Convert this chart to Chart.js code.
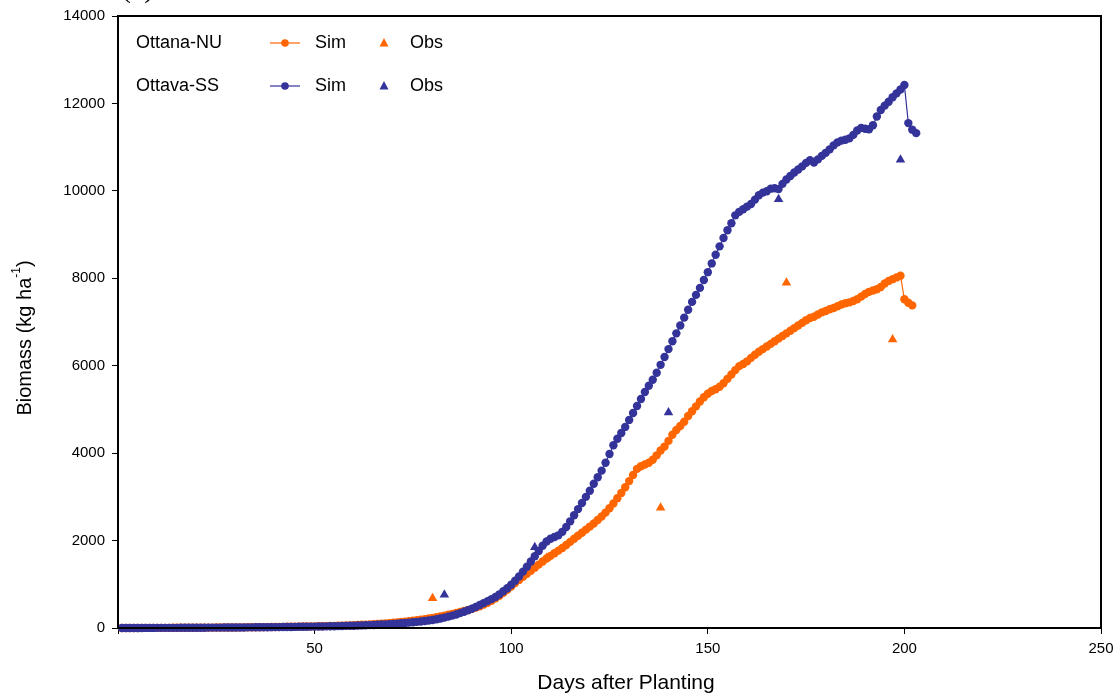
<!DOCTYPE html>
<html>
<head>
<meta charset="utf-8">
<script src="https://cdn.jsdelivr.net/npm/chart.js@4/dist/chart.umd.min.js"></script>
<style>
  html, body { margin: 0; padding: 0; background: #fff; }
  #wrap { width: 1120px; height: 693px; position: relative; }
</style>
</head>
<body>
<div id="wrap"><canvas id="chart"></canvas></div>
<script>
// simulated biomass, one value per day starting at day 1 (kg/ha)
const simNU = [
  0,0,1,1,1,2,2,2,3,3,
  3,4,4,5,5,5,6,6,7,7,
  8,8,9,9,10,11,11,12,13,13,
  14,15,16,17,18,19,20,21,22,23,
  24,26,27,28,30,31,33,35,36,38,
  40,42,44,47,49,52,55,58,61,65,
  69,73,77,82,87,93,99,105,112,120,
  128,137,146,156,167,178,190,203,217,232,
  248,265,283,302,322,343,365,388,412,438,
  466,498,535,578,625,678,738,805,875,950,
  1030,1100,1170,1240,1310,1380,1450,1520,1590,1650,
  1710,1770,1830,1900,1970,2040,2110,2180,2250,2320,
  2390,2470,2550,2640,2740,2850,2970,3090,3220,3360,
  3500,3640,3700,3740,3780,3850,3950,4060,4150,4280,
  4420,4530,4620,4720,4850,4960,5070,5180,5280,5360,
  5420,5460,5520,5600,5700,5800,5900,5990,6040,6100,
  6180,6250,6320,6380,6440,6500,6560,6620,6680,6740,
  6800,6860,6920,6980,7040,7090,7120,7170,7220,7250,
  7290,7320,7360,7400,7430,7450,7480,7520,7580,7640,
  7690,7720,7750,7800,7880,7940,7980,8020,8060,7520,
  7440,7380
];
const simSS = [
  0,0,0,1,1,1,2,2,2,3,
  3,3,4,4,4,5,5,5,6,6,
  7,7,8,8,9,9,10,11,11,12,
  13,13,14,15,16,16,17,18,19,20,
  21,22,23,24,25,27,28,29,31,32,
  34,35,37,39,41,43,45,48,50,53,
  56,59,63,66,70,74,79,84,89,95,
  101,108,115,123,131,140,150,160,171,183,
  200,218,238,260,284,310,340,372,406,442,
  480,525,570,615,660,710,770,840,910,990,
  1080,1180,1290,1400,1520,1640,1760,1880,1980,2040,
  2080,2120,2200,2310,2440,2580,2720,2860,3000,3140,
  3300,3450,3600,3780,3980,4180,4330,4460,4600,4760,
  4920,5080,5240,5400,5540,5680,5840,6020,6200,6380,
  6560,6740,6920,7100,7280,7460,7620,7780,7960,8140,
  8340,8540,8730,8920,9100,9260,9440,9520,9580,9640,
  9700,9800,9900,9960,9990,10050,10060,10040,10160,10260,
  10340,10420,10490,10560,10640,10700,10650,10720,10800,10870,
  10950,11040,11110,11150,11170,11200,11280,11380,11440,11420,
  11410,11500,11700,11850,11950,12040,12140,12230,12320,12420,
  11550,11400,11320
];

// observed biomass
const obsDaysNU = [80, 109, 138, 170, 197];
const obsNU = [680, 1600, 2750, 7900, 6600];
const obsDaysSS = [83, 106, 140, 168, 199];
const obsSS = [760, 1850, 4930, 9810, 10710];

const xTicks = [0, 50, 100, 150, 200, 250];
const yTicks = [0, 2000, 4000, 6000, 8000, 10000, 12000, 14000];

const ORANGE = '#FF6600';
const BLUE = '#333399';
const FONT = 'Liberation Sans, Arial, sans-serif';

function byDay(vals) {
  return vals.map((v, i) => ({ x: i + 1, y: v }));
}
function pairs(days, vals) {
  return days.map((d, i) => ({ x: d, y: vals[i] }));
}

// frame, legend and axis titles
const decor = {
  id: 'decor',
  afterDraw(chart) {
    const { ctx, chartArea: a } = chart;
    ctx.save();
    ctx.strokeStyle = '#000';
    ctx.lineWidth = 2;
    ctx.strokeRect(a.left, a.top, a.right - a.left, a.bottom - a.top);

    ctx.fillStyle = '#000';
    ctx.font = '18px ' + FONT;
    ctx.textBaseline = 'middle';
    const rows = [['Ottana-NU', ORANGE, 43], ['Ottava-SS', BLUE, 86]];
    rows.forEach(([name, col, y]) => {
      ctx.fillStyle = '#000';
      ctx.fillText(name, 136, y);
      ctx.fillText('Sim', 315, y);
      ctx.fillText('Obs', 410, y);
      ctx.strokeStyle = col;
      ctx.lineWidth = 1.2;
      ctx.beginPath(); ctx.moveTo(270, y); ctx.lineTo(300, y); ctx.stroke();
      ctx.fillStyle = col;
      ctx.beginPath(); ctx.arc(285, y, 3.8, 0, Math.PI * 2); ctx.fill();
      ctx.beginPath();
      ctx.moveTo(384, y - 5); ctx.lineTo(388.5, y + 3.5); ctx.lineTo(379.5, y + 3.5);
      ctx.closePath(); ctx.fill();
    });

    ctx.fillStyle = '#000';
    ctx.textAlign = 'center';
    ctx.font = '21px ' + FONT;
    ctx.fillText('Days after Planting', 626, 683);

    // y title with superscript
    ctx.translate(25, 338);
    ctx.rotate(-Math.PI / 2);
    const main = 'Biomass (kg ha';
    ctx.font = '20px ' + FONT;
    const w1 = ctx.measureText(main).width;
    ctx.font = '12px ' + FONT;
    const w2 = ctx.measureText('-1').width;
    ctx.font = '20px ' + FONT;
    const w3 = ctx.measureText(')').width;
    let x0 = -(w1 + w2 + w3) / 2;
    ctx.textAlign = 'left';
    ctx.fillText(main, x0, 0);
    ctx.font = '12px ' + FONT;
    ctx.fillText('-1', x0 + w1, -8);
    ctx.font = '20px ' + FONT;
    ctx.fillText(')', x0 + w1 + w2, 0);
    ctx.restore();

    // clipped fragment at the top edge
    ctx.save();
    ctx.font = '30px Liberation Serif, serif';
    ctx.textBaseline = 'alphabetic';
    ctx.fillStyle = '#000';
    ctx.fillText('(a)', 121, -3);
    ctx.restore();
  }
};

new Chart(document.getElementById('chart'), {
  type: 'scatter',
  data: {
    datasets: [
      {
        label: 'Ottava-SS Sim',
        data: byDay(simSS),
        showLine: true,
        borderColor: BLUE,
        backgroundColor: BLUE,
        borderWidth: 1.2,
        pointRadius: 4.2,
        pointBorderWidth: 0,
        clip: false,
        order: 1
      },
      {
        label: 'Ottana-NU Sim',
        data: byDay(simNU),
        showLine: true,
        borderColor: ORANGE,
        backgroundColor: ORANGE,
        borderWidth: 1.2,
        pointRadius: 4.2,
        pointBorderWidth: 0,
        clip: false,
        order: 2
      },
      {
        label: 'Ottana-NU Obs',
        data: pairs(obsDaysNU, obsNU),
        pointStyle: 'triangle',
        backgroundColor: ORANGE,
        borderColor: ORANGE,
        pointRadius: 5.5,
        pointBorderWidth: 0,
        order: 3
      },
      {
        label: 'Ottava-SS Obs',
        data: pairs(obsDaysSS, obsSS),
        pointStyle: 'triangle',
        backgroundColor: BLUE,
        borderColor: BLUE,
        pointRadius: 5.5,
        pointBorderWidth: 0,
        order: 0
      }
    ]
  },
  options: {
    responsive: true,
    maintainAspectRatio: false,
    animation: false,
    layout: { padding: { top: 15, right: 19, left: 0, bottom: 0 } },
    plugins: { legend: { display: false }, tooltip: { enabled: false } },
    scales: {
      x: {
        type: 'linear',
        min: 0,
        max: 250,
        afterFit(s) { s.height = 65; },
        afterBuildTicks(s) { s.ticks = xTicks.map(v => ({ value: v })); },
        border: { color: '#000', width: 2 },
        grid: { display: true, drawOnChartArea: false, drawTicks: true, tickLength: 6, color: '#000', lineWidth: 1 },
        ticks: {
          color: '#000',
          font: { family: FONT, size: 15 },
          padding: 6,
          maxRotation: 0,
          callback: v => (v === 0 ? '' : v)
        }
      },
      y: {
        min: 0,
        max: 14000,
        afterFit(s) { s.width = 118; },
        afterBuildTicks(s) { s.ticks = yTicks.map(v => ({ value: v })); },
        border: { color: '#000', width: 2 },
        grid: { display: true, drawOnChartArea: false, drawTicks: true, tickLength: 6, color: '#000', lineWidth: 1 },
        ticks: {
          color: '#000',
          font: { family: FONT, size: 15 },
          padding: 7,
          callback: v => String(v)
        }
      }
    }
  },
  plugins: [decor]
});
</script>
</body>
</html>
